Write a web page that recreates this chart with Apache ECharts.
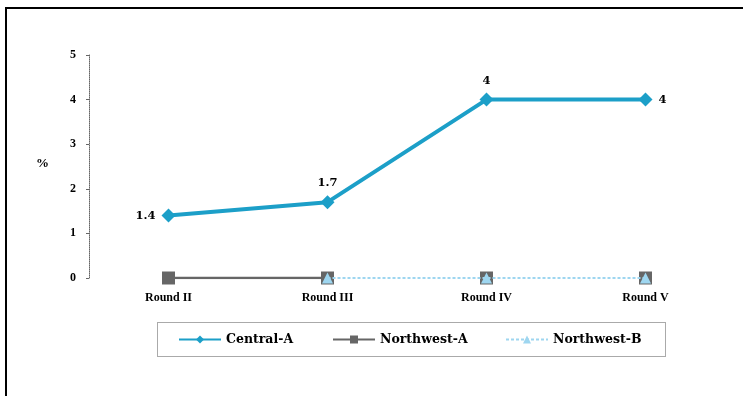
<!DOCTYPE html>
<html><head><meta charset="utf-8">
<script src="https://cdn.jsdelivr.net/npm/echarts@6/dist/echarts.min.js"></script>
<style>
html,body{margin:0;padding:0;background:#fff;}
#frame{position:absolute;left:5px;top:7px;width:800px;height:500px;border:2px solid #000;box-sizing:border-box;}
#chart{position:absolute;left:0;top:0;width:743px;height:396px;}
</style></head>
<body>
<div id="frame"></div>
<div id="chart"></div>
<script>
var categories = ['Round II', 'Round III', 'Round IV', 'Round V'];
var centralA = [1.4, 1.7, 4, 4];
var northwestA = [0, 0, 0, 0];
var northwestB = [null, 0, 0, 0];
var yTicks = [0, 1, 2, 3, 4, 5];

var SERIF = '"Liberation Serif", "DejaVu Serif", serif';
var WIDE = '"DejaVu Serif", "Liberation Serif", serif';
var labelPos = ['left', 'top', 'top', 'right'];
var chart = echarts.init(document.getElementById('chart'));
var axisTxt = {fontFamily: SERIF, fontWeight: 'bold', fontSize: 12, color: '#000'};
var dataTxt = {fontFamily: WIDE, fontWeight: 'bold', fontSize: 11.5, color: '#000'};
var legTxt = {fontFamily: WIDE, fontWeight: 'bold', fontSize: 12.5, color: '#000'};

chart.setOption({
  animation: false,
  grid: {left: 89, right: 18, top: 55, bottom: 118, containLabel: false},
  xAxis: {
    type: 'category', data: categories, boundaryGap: true,
    axisLine: {show: false}, axisTick: {show: false},
    axisLabel: Object.assign({margin: 14}, axisTxt)
  },
  yAxis: {
    type: 'value', min: yTicks[0], max: yTicks[yTicks.length - 1], interval: 1,
    axisLine: {show: true, lineStyle: {color: '#666', type: 'dotted', width: 1}},
    axisTick: {show: true, length: 3, lineStyle: {color: '#666'}},
    splitLine: {show: false},
    axisLabel: Object.assign({margin: 13}, axisTxt)
  },
  graphic: [
    {type: 'text', left: 36, top: 157, style: {text: '%', font: 'bold 13px ' + SERIF, fill: '#000'}},
    {type: 'rect', shape: {x: 157.5, y: 322.5, width: 508, height: 34},
     style: {fill: 'none', stroke: '#555', lineWidth: 1, lineDash: [1, 1]}}
  ],
  legend: [
    {data: ['Central-A'], left: 178, top: 333, itemWidth: 42, itemHeight: 10, itemGap: 6, textStyle: legTxt, padding: 0},
    {data: ['Northwest-A'], left: 332, top: 333, itemWidth: 42, itemHeight: 10, itemGap: 6, textStyle: legTxt, padding: 0},
    {data: ['Northwest-B'], left: 505, top: 333, itemWidth: 42, itemHeight: 10, itemGap: 6, textStyle: legTxt, padding: 0}
  ],
  series: [
    {
      name: 'Northwest-A', type: 'line', z: 2,
      data: northwestA.map(function (v, i) { return i <= 1 ? v : null; }),
      symbol: 'rect', symbolSize: 13,
      itemStyle: {color: '#666'}, lineStyle: {color: '#666', width: 2.5}
    },
    {
      name: 'Northwest-A', type: 'line', z: 2,
      data: northwestA.map(function (v, i) { return i >= 2 ? v : null; }),
      symbol: 'rect', symbolSize: 13,
      itemStyle: {color: '#666'}, lineStyle: {opacity: 0, width: 0}
    },
    {
      name: 'Northwest-B', type: 'line', z: 3,
      data: northwestB,
      symbol: 'triangle', symbolSize: 11,
      itemStyle: {color: '#9ed6f0'}, lineStyle: {color: '#9ed6f0', width: 2, type: [3, 2]}
    },
    {
      name: 'Central-A', type: 'line', z: 4,
      data: centralA.map(function (v, i) { return {value: v, label: {position: labelPos[i]}}; }),
      symbol: 'diamond', symbolSize: 14,
      itemStyle: {color: '#1c9fc8'}, lineStyle: {color: '#1c9fc8', width: 4},
      label: Object.assign({show: true, distance: 6}, dataTxt)
    }
  ]
});
</script>
</body></html>
